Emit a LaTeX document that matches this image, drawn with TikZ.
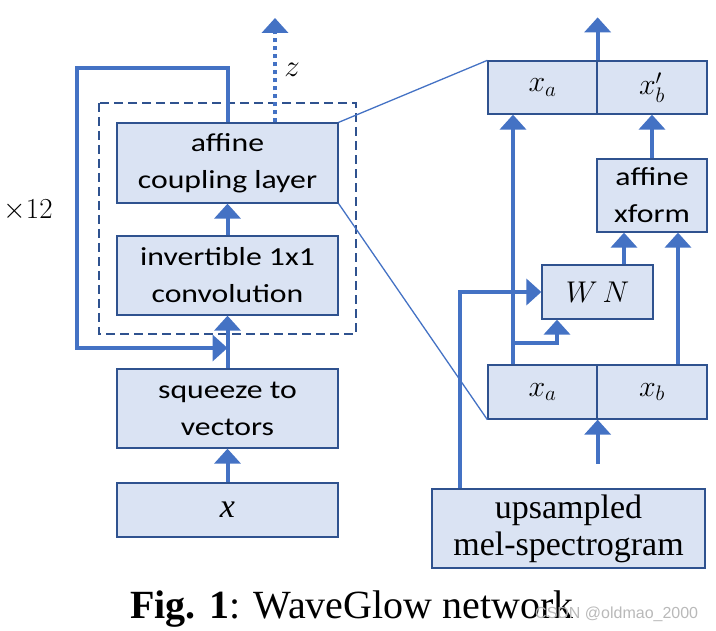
\documentclass[tikz,border=0pt]{standalone}
\usepackage{fix-cm}
\usepackage{amsmath}
\usepackage{fontspec}
\setmainfont{Liberation Serif}
\newfontfamily\boxfont[FakeStretch=1.22]{Carlito}
\newfontfamily\markfont{Liberation Sans}
\usetikzlibrary{arrows.meta}
\definecolor{boxfill}{HTML}{DAE3F3}
\definecolor{boxline}{HTML}{2F528F}
\definecolor{flowblue}{HTML}{4472C4}

\begin{document}
\begin{tikzpicture}[x=1pt, y=-1pt,
  blk/.style={draw=boxline, line width=1.3pt, fill=boxfill, align=center, inner sep=0pt, font=\boxfont\fontsize{26}{37}\selectfont},
  mathblk/.style={blk, font=\fontsize{30}{34}\selectfont},
  flow/.style={draw=flowblue, line width=4pt, -{Triangle[width=26pt,length=15pt]}},
  zoomline/.style={draw=flowblue, line width=1.3pt}]

\useasboundingbox (0,0) rectangle (716,631);

% Left column - one WaveGlow step
\node[blk, minimum width=221pt, minimum height=80pt] (affine) at (227.5,163) {affine\\coupling layer};
\node[blk, minimum width=221pt, minimum height=79pt] (conv) at (227.5,275.5) {invertible 1x1\\convolution};
\node[blk, minimum width=221pt, minimum height=79pt] (squeeze) at (227.5,408.5) {squeeze to\\vectors};
\node[blk, minimum width=221pt, minimum height=54pt, font=\fontsize{34}{38}\selectfont] (xin) at (227.5,510) {\textit{x}};

% Dashed frame round the repeated step
\draw[boxline, line width=1.3pt, dash pattern=on 9pt off 5pt] (99,103) rectangle (356,334);

% Arrows up the left column
\draw[flow] (xin.north) -- (squeeze.south);
\draw[flow] (squeeze.north) -- (conv.south);
\draw[flow] (conv.north) -- (affine.south);

% Loop back, x12
\coordinate (loopTL) at (77,68);
\coordinate (loopBL) at (77,348);
\draw[flow] (affine.north) |- (loopTL) -- (loopBL) -- (loopBL -| squeeze.north);
\node[font=\fontsize{29}{33}\selectfont] (times) at (28,210) {$\times 12$};

% Early output z - dotted
\coordinate (zout) at (275,18);
\draw[flow, dash pattern=on 4pt off 4pt] (affine.north -| zout) -- (zout);
\node[font=\fontsize{31}{35}\selectfont] (zlbl) at (292,70) {$z$};

% Right side - inside the affine coupling layer
\node[mathblk, minimum width=109pt, minimum height=53pt] (xat) at (542.5,87.5) {$x_a$};
\node[mathblk, minimum width=110pt, minimum height=53pt] (xbt) at (652,87.5) {$x'_b$};
\node[blk, minimum width=110pt, minimum height=73pt] (xform) at (652,195.5) {affine\\xform};
\node[mathblk, minimum width=111pt, minimum height=54pt] (wn) at (597.5,292) {$W\,N$};
\node[mathblk, minimum width=109pt, minimum height=54pt] (xab) at (542.5,392) {$x_a$};
\node[mathblk, minimum width=110pt, minimum height=54pt] (xbb) at (652,392) {$x_b$};
\node[blk, minimum width=273pt, minimum height=79pt, font=\fontsize{34}{37}\selectfont] (mel) at (568.5,528.5) {upsampled\\mel-spectrogram};

% Zoom lines
\draw[zoomline] (affine.north east) -- (xat.north west);
\draw[zoomline] (affine.south east) -- (xab.south west);

% Arrows inside the coupling layer
\coordinate (outR) at ([yshift=43pt]xat.north east);
\draw[flow] (xat.north east) -- (outR);
\draw[flow] ([xshift=-29.5pt]xab.north) -- ([xshift=-29.5pt]xat.south);
\draw[flow] (xform.north) -- (xbt.south);
\draw[flow] ([xshift=26.5pt]wn.north) -- ([xshift=26.5pt]wn.north |- xform.south);
\draw[flow] ([xshift=26pt]xbb.north) -- ([xshift=26pt]xbb.north |- xform.south);
\coordinate (brA) at (513,343);
\draw[flow] (brA) -| ([xshift=-40.5pt]wn.south);
\draw[flow] ([xshift=-108.5pt]mel.north) |- (wn.west);
\coordinate (melin) at ([yshift=-44pt]xab.south east);
\draw[flow] (melin) -- (xab.south east);

% Caption
\node[anchor=base west, inner sep=0pt, font=\fontsize{40}{44}\selectfont] (cap) at (130,618) {\textbf{Fig. 1}: WaveGlow network};
\node[anchor=base west, inner sep=0pt, font=\markfont\fontsize{16}{18}\selectfont, text=gray!55] (mark) at (535,618) {CSDN @oldmao\_2000};

\end{tikzpicture}
\end{document}
